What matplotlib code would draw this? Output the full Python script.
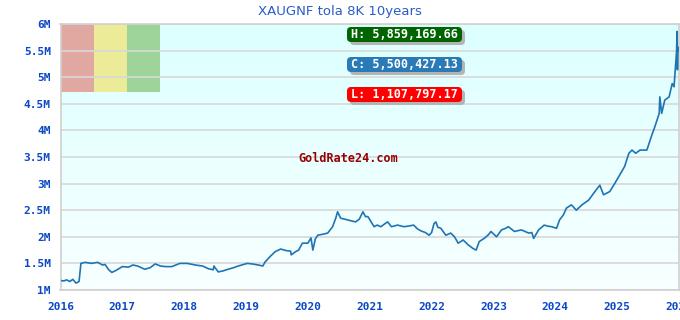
import numpy as np
import matplotlib.pyplot as plt
from matplotlib.patches import Rectangle, FancyBboxPatch

# decimal year, price in millions
years = [2016.00, 2016.05, 2016.10, 2016.15, 2016.20, 2016.25, 2016.30, 2016.33,
         2016.40, 2016.50, 2016.60, 2016.68, 2016.72, 2016.78, 2016.83, 2016.90,
         2017.00, 2017.10, 2017.17, 2017.25, 2017.36, 2017.45, 2017.53, 2017.62,
         2017.70, 2017.80, 2017.93, 2018.05, 2018.18, 2018.30, 2018.39, 2018.47,
         2018.48, 2018.55, 2018.63, 2018.71, 2018.80, 2018.87, 2019.02, 2019.10,
         2019.20, 2019.27, 2019.31, 2019.39, 2019.47, 2019.56, 2019.65, 2019.72,
         2019.73, 2019.80, 2019.85, 2019.91, 2020.00, 2020.05, 2020.08, 2020.12,
         2020.16, 2020.25, 2020.32, 2020.40, 2020.45, 2020.48, 2020.53, 2020.60,
         2020.64, 2020.70, 2020.77, 2020.83, 2020.89, 2020.93, 2020.97, 2021.07,
         2021.12, 2021.18, 2021.25, 2021.29, 2021.35, 2021.45, 2021.55, 2021.62,
         2021.71, 2021.77, 2021.83, 2021.90, 2021.96, 2022.00, 2022.04, 2022.07,
         2022.10, 2022.15, 2022.23, 2022.31, 2022.37, 2022.43, 2022.51, 2022.59,
         2022.67, 2022.72, 2022.77, 2022.85, 2022.92, 2022.96, 2023.05, 2023.13,
         2023.20, 2023.24, 2023.34, 2023.45, 2023.57, 2023.62, 2023.65, 2023.73,
         2023.82, 2023.88, 2023.94, 2024.02, 2024.07, 2024.13, 2024.18, 2024.26,
         2024.34, 2024.43, 2024.54, 2024.64, 2024.72, 2024.78, 2024.88, 2024.96,
         2025.04, 2025.12, 2025.19, 2025.24, 2025.30, 2025.37, 2025.48, 2025.56,
         2025.61, 2025.68, 2025.69, 2025.72, 2025.77, 2025.84, 2025.89, 2025.92,
         2025.94, 2025.96, 2025.97, 2025.975, 2025.98, 2025.99]
price_m = [1.18, 1.17, 1.19, 1.16, 1.20, 1.13, 1.16, 1.50,
           1.52, 1.50, 1.52, 1.47, 1.48, 1.38, 1.33, 1.37,
           1.44, 1.43, 1.47, 1.45, 1.39, 1.42, 1.49, 1.45,
           1.44, 1.44, 1.50, 1.50, 1.47, 1.45, 1.40, 1.38,
           1.45, 1.34, 1.36, 1.39, 1.42, 1.45, 1.50, 1.49,
           1.47, 1.45, 1.53, 1.63, 1.72, 1.77, 1.74, 1.73,
           1.66, 1.72, 1.75, 1.88, 1.88, 1.98, 1.75, 1.96,
           2.03, 2.05, 2.07, 2.19, 2.35, 2.47, 2.35, 2.33,
           2.32, 2.30, 2.28, 2.33, 2.47, 2.38, 2.38, 2.19,
           2.22, 2.19, 2.25, 2.28, 2.19, 2.22, 2.19, 2.20,
           2.22, 2.15, 2.11, 2.08, 2.03, 2.08, 2.25, 2.28,
           2.18, 2.16, 2.03, 2.07, 2.00, 1.88, 1.94, 1.85,
           1.78, 1.75, 1.91, 1.97, 2.04, 2.10, 2.00, 2.13,
           2.16, 2.19, 2.10, 2.13, 2.07, 2.08, 1.97, 2.13,
           2.22, 2.20, 2.19, 2.16, 2.32, 2.41, 2.54, 2.60,
           2.50, 2.60, 2.69, 2.85, 2.97, 2.79, 2.85, 3.00,
           3.16, 3.32, 3.57, 3.63, 3.57, 3.63, 3.63, 3.91,
           4.07, 4.32, 4.63, 4.32, 4.57, 4.63, 4.88, 4.82,
           5.14, 5.48, 5.86, 5.14, 5.57, 5.50]

year_ticks = list(range(2016, 2027))
y_ticks = [1, 1.5, 2, 2.5, 3, 3.5, 4, 4.5, 5, 5.5, 6]
y_labels = ['1M', '1.5M', '2M', '2.5M', '3M', '3.5M', '4M', '4.5M', '5M', '5.5M', '6M']

title = 'XAUGNF tola 8K 10years'
high_txt = 'H: 5,859,169.66'
close_txt = 'C: 5,500,427.13'
low_txt = 'L: 1,107,797.17'

tick_color = '#0a48c8'
mono = 'DejaVu Sans Mono'

W, H = 680, 320
fig = plt.figure(figsize=(W / 100, H / 100), dpi=100)
ax = fig.add_axes([60.5 / W, 30 / H, (679 - 60.5) / W, 266 / H])

# background gradient
grad = np.linspace(0, 1, 256).reshape(-1, 1)
top = np.array([0xdc, 0xff, 0xff]) / 255
bot = np.array([0xf8, 0xff, 0xff]) / 255
img = top[None, None, :] * (1 - grad[:, :, None]) + bot[None, None, :] * grad[:, :, None]
ax.imshow(img, extent=[0, 1, 0, 1], transform=ax.transAxes, aspect='auto', zorder=0)

# coloured blocks top left
for i, c in enumerate(['#e0a8a0', '#ebeb98', '#9ed49a']):
    ax.add_patch(Rectangle((i * 0.0537, 0.746), 0.0537, 0.254, transform=ax.transAxes,
                           facecolor=c, edgecolor='none', zorder=1))

for yv in y_ticks:
    ax.axhline(yv, color='#d8d8d8', lw=1.2, zorder=1.5)

ax.plot(years, price_m, color='#1f74b4', lw=1.2, zorder=3)

ax.set_xlim(2016, 2026)
ax.set_ylim(1, 6)
ax.set_xticks(year_ticks)
ax.set_xticklabels([str(y) for y in year_ticks], family=mono, weight='bold', fontsize=8, color=tick_color)
ax.set_yticks(y_ticks)
ax.set_yticklabels(y_labels, family=mono, weight='bold', fontsize=8, color=tick_color)
ax.tick_params(length=0, pad=7)
ax.tick_params(axis='x', pad=9)
for s in ax.spines.values():
    s.set_color('#d0d0d0')
    s.set_linewidth(1.2)

fig.text(0.5, 0.965, title, ha='center', va='center', fontsize=9.5, color='#2a5cc8')

# H / C / L labels: boxes in figure pixels (top y of each box)
for txt, fc, ytop in [(high_txt, '#006400', 27), (close_txt, '#2a7ab8', 57), (low_txt, '#ff0000', 87)]:
    x0, bw, bh = 347, 115, 15
    y0 = H - ytop - bh
    shadow = FancyBboxPatch(((x0 + 3) / W, (y0 - 3) / H), bw / W, bh / H,
                            boxstyle='round,pad=0,rounding_size=0.006',
                            mutation_aspect=W / H, transform=fig.transFigure,
                            fc='#b4b4b4', ec='none', zorder=4)
    box = FancyBboxPatch((x0 / W, y0 / H), bw / W, bh / H,
                         boxstyle='round,pad=0,rounding_size=0.006',
                         mutation_aspect=W / H, transform=fig.transFigure,
                         fc=fc, ec='none', zorder=5)
    fig.patches.extend([shadow, box])
    fig.text((x0 + bw / 2) / W, (y0 + bh / 2) / H, txt, ha='center', va='center',
             family=mono, weight='bold', fontsize=8.5, color='white', zorder=6)

ax.text(0.466, 0.496, 'GoldRate24.com', transform=ax.transAxes, ha='center', va='center',
        family=mono, weight='bold', fontsize=8.5, color='#990000', zorder=4)

fig.savefig('out.png', dpi=100)
